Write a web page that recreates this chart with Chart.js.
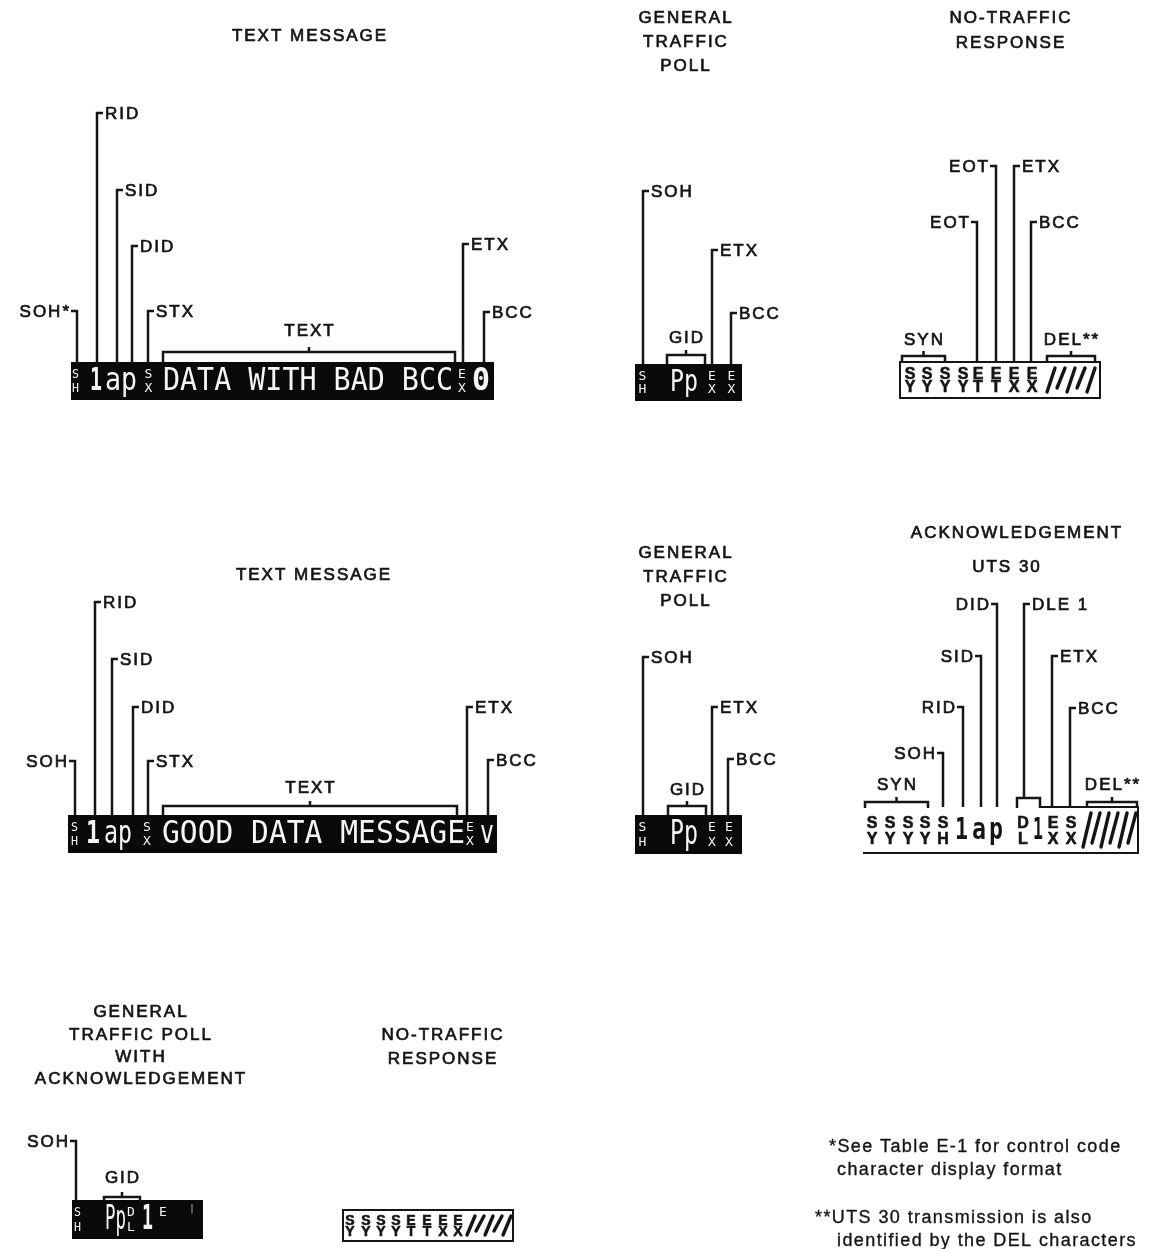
<!DOCTYPE html>
<html>
<head>
<meta charset="utf-8">
<title>UTS message formats</title>
<script src="https://cdn.jsdelivr.net/npm/chart.js@4.4.1/dist/chart.umd.min.js"></script>
<style>
  html, body { margin: 0; padding: 0; background: #fff; }
  #wrap { position: relative; width: 1154px; height: 1249px; }
</style>
</head>
<body>
<div id="wrap"><canvas id="diagram"></canvas></div>
<script>
// Panel titles (diagram units = the 1154 x 1249 sheet)
const titleLines = ['TEXT MESSAGE', 'GENERAL', 'TRAFFIC', 'POLL', 'NO-TRAFFIC', 'RESPONSE',
    'TEXT MESSAGE', 'GENERAL', 'TRAFFIC', 'POLL', 'ACKNOWLEDGEMENT', 'UTS 30',
    'GENERAL', 'TRAFFIC POLL', 'WITH', 'ACKNOWLEDGEMENT', 'NO-TRAFFIC', 'RESPONSE'];
const titleX = [309, 685, 685, 685, 1010, 1010, 313, 685, 685, 685, 1016, 1006, 140, 140, 140, 140, 442, 442];
const titleY = [36, 18, 42, 66, 18, 43, 575, 553, 577, 601, 533, 567, 1012, 1035, 1057, 1079, 1035, 1059];

// Leader callouts: label, x of the rule, y of the label, y where it meets the frame, side of label
const leaderNames = ['SOH*', 'RID', 'SID', 'DID', 'STX', 'ETX', 'BCC',
    'SOH', 'ETX', 'BCC',
    'EOT', 'EOT', 'ETX', 'BCC',
    'SOH', 'RID', 'SID', 'DID', 'STX', 'ETX', 'BCC',
    'SOH', 'ETX', 'BCC',
    'SOH', 'RID', 'SID', 'DID', 'DLE 1', 'ETX', 'BCC',
    'SOH'];
const leaderX = [77, 97, 117, 132, 148, 463, 484,
    643, 712, 731,
    977, 996, 1014, 1031,
    75, 95, 112, 133, 148, 467, 488,
    643, 712, 728,
    943, 963, 981, 997, 1024, 1052, 1070,
    76];
const leaderY = [311, 113, 190, 246, 311, 244, 312,
    191, 250, 313,
    222, 166, 166, 222,
    761, 602, 659, 707, 761, 707, 760,
    657, 707, 759,
    753, 707, 656, 604, 604, 656, 708,
    1141];
const leaderEnd = [362, 362, 362, 362, 362, 362, 362,
    364, 364, 364,
    362, 362, 362, 362,
    815, 815, 815, 815, 815, 815, 815,
    815, 815, 815,
    807, 807, 807, 807, 798, 807, 807,
    1200];
const leaderSide = [-1, 1, 1, 1, 1, 1, 1,
    1, 1, 1,
    -1, -1, 1, 1,
    -1, 1, 1, 1, 1, 1, 1,
    1, 1, 1,
    -1, -1, -1, -1, 1, 1, 1,
    -1];

// Braces over groups of characters
const braceNames = ['TEXT', 'GID', 'SYN', 'DEL**', 'TEXT', 'GID', 'SYN', '', 'DEL**', 'GID'];
const braceFrom = [163, 667, 902, 1047, 163, 668, 865, 1017, 1087, 104];
const braceTo = [455, 705, 945, 1095, 457, 706, 928, 1040, 1137, 140];
const braceTop = [352, 355, 356, 356, 806, 806, 802, 798, 802, 1197];
const braceEnd = [362, 364, 362, 362, 815, 815, 808, 808, 808, 1201];
const braceLabelY = [331, 338, 340, 340, 788, 790, 785, 0, 785, 1178];

// Frames: screen captures (dark) and printed line frames
const frameKind = ['display', 'display', 'line', 'display', 'display', 'open', 'display', 'line'];
const frameLeft = [71, 635, 900, 68, 635, 863, 72, 343];
const frameRight = [494, 742, 1100, 497, 742, 1138, 203, 513];
const frameTop = [362, 364, 362, 815, 815, 807, 1200, 1210];
const frameBottom = [400, 401, 398, 853, 854, 853, 1239, 1241];
const frameOpenFrom = [0, 0, 0, 0, 0, 1040, 0, 0];

// Characters shown inside each frame ('A|B' = stacked control code, '/' = DEL fill)
const glyphFrame = [0, 0, 0, 0, 0, 0, 0,
    1, 1, 1, 1,
    2, 2, 2, 2, 2, 2, 2, 2, 2,
    3, 3, 3, 3, 3, 3, 3,
    4, 4, 4, 4,
    5, 5, 5, 5, 5, 5, 5, 5, 5, 5, 5, 5, 5,
    6, 6, 6, 6, 6, 6,
    7, 7, 7, 7, 7, 7, 7, 7, 7];
const glyphText = ['S|H', '1', 'ap', 'S|X', 'DATA WITH BAD BCC', 'E|X', '0',
    'S|H', 'Pp', 'E|X', 'E|X',
    'S|Y', 'S|Y', 'S|Y', 'S|Y', 'E|T', 'E|T', 'E|X', 'E|X', '/',
    'S|H', '1', 'ap', 'S|X', 'GOOD DATA MESSAGE', 'E|X', 'v',
    'S|H', 'Pp', 'E|X', 'E|X',
    'S|Y', 'S|Y', 'S|Y', 'S|Y', 'S|H', '1', 'a', 'p', 'D|L', '1', 'E|X', 'S|X', '/',
    'S|H', 'Pp', 'D|L', '1', 'E|', "'",
    'S|Y', 'S|Y', 'S|Y', 'S|Y', 'E|T', 'E|T', 'E|X', 'E|X', '/'];
const glyphFrom = [72, 90, 105, 141, 163, 456, 472,
    638, 670, 707, 726,
    905, 922, 940, 958, 973, 991, 1009, 1027, 1047,
    71, 86, 104, 141, 162, 465, 480,
    638, 670, 707, 724,
    867, 885, 903, 920, 938, 955, 972, 989, 1018, 1033, 1049, 1066, 1083,
    74, 105, 127, 142, 159, 190,
    346, 362, 377, 392, 407, 423, 439, 454, 467];
const glyphTo = [79, 102, 137, 156, 453, 468, 490,
    647, 698, 717, 737,
    915, 932, 950, 968, 983, 1001, 1019, 1037, 1095,
    78, 100, 132, 153, 465, 475, 494,
    647, 698, 717, 734,
    877, 895, 913, 930, 948, 968, 986, 1003, 1028, 1043, 1057, 1076, 1136,
    81, 126, 135, 153, 167, 194,
    354, 370, 385, 400, 415, 431, 447, 462, 511];

// Footnotes
const noteLines = ['*See Table E-1 for control code', 'character display format',
    '**UTS 30 transmission is also', 'identified by the DEL characters'];
const noteX = [829, 837, 815, 837];
const noteY = [1147, 1170, 1218, 1241];

const ink = '#151515';
const paper = '#f5f5f5';
const labelFont = '17px "Liberation Sans", Arial, sans-serif';

const datasets = [];

leaderNames.forEach(function(name, i) {
    const s = leaderSide[i];
    datasets.push({
        label: name,
        data: [
            {x: leaderX[i] + s * 6, y: leaderY[i]},
            {x: leaderX[i], y: leaderY[i]},
            {x: leaderX[i], y: leaderEnd[i]}
        ],
        showLine: true,
        borderColor: ink,
        borderWidth: 2.5,
        borderJoinStyle: 'miter',
        pointRadius: 0,
        fill: false
    });
});

braceNames.forEach(function(name, i) {
    const a = braceFrom[i], b = braceTo[i], m = (a + b) / 2;
    const pts = [{x: a, y: braceEnd[i]}, {x: a, y: braceTop[i]}];
    if (name) {
        pts.push({x: m, y: braceTop[i]}, {x: m, y: braceTop[i] - 5}, {x: m, y: braceTop[i]});
    }
    pts.push({x: b, y: braceTop[i]}, {x: b, y: braceEnd[i]});
    datasets.push({
        label: name || 'bracket',
        data: pts,
        showLine: true,
        borderColor: ink,
        borderWidth: 2.5,
        borderJoinStyle: 'miter',
        pointRadius: 0,
        fill: false
    });
});

function spacedText(ctx, text, x, y, spacing) {
    ctx.letterSpacing = spacing + 'px';
    ctx.fillText(text, x, y);
    ctx.strokeText(text, x, y);
    ctx.letterSpacing = '0px';
}

const partsPlugin = {
    id: 'diagramParts',
    beforeDatasetsDraw(chart) {
        const ctx = chart.ctx;
        const xs = chart.scales.x, ys = chart.scales.y;
        ctx.save();
        frameKind.forEach(function(kind, i) {
            const l = xs.getPixelForValue(frameLeft[i]);
            const r = xs.getPixelForValue(frameRight[i]);
            const t = ys.getPixelForValue(frameTop[i]);
            const b = ys.getPixelForValue(frameBottom[i]);
            if (kind === 'display') {
                ctx.fillStyle = '#0a0a0a';
                ctx.fillRect(l, t, r - l, b - t);
            } else if (kind === 'line') {
                ctx.strokeStyle = ink;
                ctx.lineWidth = 2;
                ctx.strokeRect(l, t, r - l, b - t);
            } else {
                const o = xs.getPixelForValue(frameOpenFrom[i]);
                ctx.strokeStyle = ink;
                ctx.lineWidth = 2;
                ctx.beginPath();
                ctx.moveTo(o, t);
                ctx.lineTo(r, t);
                ctx.lineTo(r, b);
                ctx.lineTo(l, b);
                ctx.stroke();
            }
        });
        ctx.restore();
    },
    afterDatasetsDraw(chart) {
        const ctx = chart.ctx;
        const xs = chart.scales.x, ys = chart.scales.y;
        ctx.save();

        // characters inside frames
        glyphText.forEach(function(text, i) {
            const f = glyphFrame[i];
            const dark = frameKind[f] === 'display';
            const t = ys.getPixelForValue(frameTop[f]);
            const b = ys.getPixelForValue(frameBottom[f]);
            const h = b - t;
            const x0 = xs.getPixelForValue(glyphFrom[i]);
            const x1 = xs.getPixelForValue(glyphTo[i]);
            const col = dark ? paper : ink;
            ctx.fillStyle = col;
            ctx.strokeStyle = col;
            if (text === '/') {
                ctx.lineWidth = 3.4;
                ctx.lineCap = 'round';
                const n = Math.max(3, Math.round((x1 - x0) / 9));
                const step = (x1 - x0 - 8) / (n - 1);
                for (let k = 0; k < n; k++) {
                    const sx = x0 + k * step;
                    const short = k % 2 === 1 ? 4 : 0;
                    ctx.beginPath();
                    ctx.moveTo(sx, b - 6 - short);
                    ctx.lineTo(sx + 8, t + 6);
                    ctx.stroke();
                }
                ctx.lineCap = 'butt';
            } else if (text.indexOf('|') >= 0) {
                const parts = text.split('|');
                const cx = (x0 + x1) / 2;
                let w = x1 - x0;
                ctx.textAlign = 'center';
                ctx.textBaseline = 'middle';
                let y0 = t + h * 0.33, y1 = t + h * 0.7;
                if (dark) {
                    ctx.font = '13px "DejaVu Sans Mono", monospace';
                } else {
                    const size = Math.min(16, Math.round(h * 0.44));
                    ctx.font = 'bold ' + size + 'px "Liberation Sans", Arial, sans-serif';
                    ctx.lineWidth = 0.6;
                    w = w + 4;
                    y0 = t + h * 0.36;
                    y1 = t + h * 0.7;
                }
                ctx.fillText(parts[0], cx, y0, w);
                if (!dark) ctx.strokeText(parts[0], cx, y0, w);
                if (parts[1]) {
                    ctx.fillText(parts[1], cx, y1, w);
                    if (!dark) ctx.strokeText(parts[1], cx, y1, w);
                }
            } else {
                ctx.textAlign = 'left';
                ctx.textBaseline = 'middle';
                const bold = /^[0-9]$/.test(text) || !dark;
                const size = Math.round(h * (dark ? 0.84 : 0.66));
                ctx.font = (bold ? 'bold ' : '') + size + 'px "DejaVu Sans Mono", monospace';
                ctx.fillText(text, x0, t + h * 0.52, x1 - x0);
            }
        });

        // labels
        ctx.fillStyle = ink;
        ctx.strokeStyle = ink;
        ctx.lineWidth = 0.7;
        ctx.font = labelFont;
        ctx.textBaseline = 'middle';

        titleLines.forEach(function(text, i) {
            ctx.textAlign = 'center';
            spacedText(ctx, text, xs.getPixelForValue(titleX[i]) + 1, ys.getPixelForValue(titleY[i]), 2);
        });

        leaderNames.forEach(function(name, i) {
            const s = leaderSide[i];
            ctx.textAlign = s > 0 ? 'left' : 'right';
            const x = xs.getPixelForValue(leaderX[i] + s * 8) + (s < 0 ? 2 : 0);
            spacedText(ctx, name, x, ys.getPixelForValue(leaderY[i]) + 1, 2);
        });

        braceNames.forEach(function(name, i) {
            if (!name) return;
            ctx.textAlign = 'center';
            const m = (braceFrom[i] + braceTo[i]) / 2;
            spacedText(ctx, name, xs.getPixelForValue(m) + 1, ys.getPixelForValue(braceLabelY[i]), 2);
        });

        ctx.font = '18px "Liberation Sans", Arial, sans-serif';
        ctx.lineWidth = 0.35;
        ctx.textAlign = 'left';
        noteLines.forEach(function(text, i) {
            spacedText(ctx, text, xs.getPixelForValue(noteX[i]), ys.getPixelForValue(noteY[i]), 1.4);
        });

        ctx.restore();
    }
};

new Chart(document.getElementById('diagram'), {
    type: 'scatter',
    data: { datasets: datasets },
    options: {
        responsive: true,
        maintainAspectRatio: false,
        animation: false,
        layout: { padding: 0 },
        plugins: {
            legend: { display: false },
            tooltip: { enabled: false },
            title: { display: false }
        },
        scales: {
            x: { type: 'linear', min: 0, max: 1154, display: false },
            y: { type: 'linear', min: 0, max: 1249, reverse: true, display: false }
        }
    },
    plugins: [partsPlugin]
});
</script>
</body>
</html>
